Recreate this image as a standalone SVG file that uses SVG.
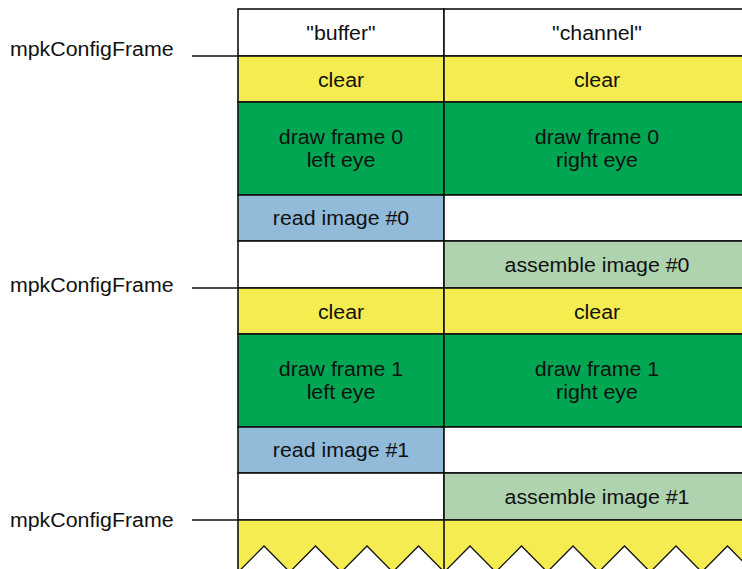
<svg xmlns="http://www.w3.org/2000/svg" width="742" height="569" viewBox="0 0 742 569">
<style>
  .cell{stroke:#111;stroke-width:1.6}
  .w{fill:#ffffff}
  .y{fill:#F5EC52}
  .g{fill:#00A651}
  .b{fill:#92BAD9}
  .lg{fill:#AED3AE}
  text{font-family:"Liberation Sans",Arial,sans-serif;font-size:19.4px;fill:#111}
  .c{text-anchor:middle}
  .tick{stroke:#111;stroke-width:1.3;fill:none}
</style>
<rect width="742" height="569" fill="#fff"/>
<g id="header-buffer"><rect class="cell w" x="238" y="9" width="206" height="47"/><text class="c" transform="translate(341,40) scale(1.1,1)">"buffer"</text></g>
<g id="header-channel"><rect class="cell w" x="444" y="9" width="306" height="47"/><text class="c" transform="translate(597,40) scale(1.1,1)">"channel"</text></g>

<g id="clear-b0"><rect class="cell y" x="238" y="56" width="206" height="46"/><text class="c" transform="translate(341,87) scale(1.1,1)">clear</text></g>
<g id="clear-c0"><rect class="cell y" x="444" y="56" width="306" height="46"/><text class="c" transform="translate(597,87) scale(1.1,1)">clear</text></g>

<g id="draw-b0"><rect class="cell g" x="238" y="102" width="206" height="93"/><text class="c" transform="translate(341,143.5) scale(1.1,1)">draw frame 0</text><text class="c" transform="translate(341,166.5) scale(1.1,1)">left eye</text></g>
<g id="draw-c0"><rect class="cell g" x="444" y="102" width="306" height="93"/><text class="c" transform="translate(597,143.5) scale(1.1,1)">draw frame 0</text><text class="c" transform="translate(597,166.5) scale(1.1,1)">right eye</text></g>

<g id="read-b0"><rect class="cell b" x="238" y="195" width="206" height="46"/><text class="c" transform="translate(341,225) scale(1.1,1)">read image #0</text></g>
<g id="empty-c0"><rect class="cell w" x="444" y="195" width="306" height="46"/></g>

<g id="empty-b0"><rect class="cell w" x="238" y="241" width="206" height="47"/></g>
<g id="assemble-c0"><rect class="cell lg" x="444" y="241" width="306" height="47"/><text class="c" transform="translate(597,272) scale(1.1,1)">assemble image #0</text></g>

<g id="clear-b1"><rect class="cell y" x="238" y="288" width="206" height="46"/><text class="c" transform="translate(341,319) scale(1.1,1)">clear</text></g>
<g id="clear-c1"><rect class="cell y" x="444" y="288" width="306" height="46"/><text class="c" transform="translate(597,319) scale(1.1,1)">clear</text></g>

<g id="draw-b1"><rect class="cell g" x="238" y="334" width="206" height="93"/><text class="c" transform="translate(341,375.5) scale(1.1,1)">draw frame 1</text><text class="c" transform="translate(341,398.5) scale(1.1,1)">left eye</text></g>
<g id="draw-c1"><rect class="cell g" x="444" y="334" width="306" height="93"/><text class="c" transform="translate(597,375.5) scale(1.1,1)">draw frame 1</text><text class="c" transform="translate(597,398.5) scale(1.1,1)">right eye</text></g>

<g id="read-b1"><rect class="cell b" x="238" y="427" width="206" height="46"/><text class="c" transform="translate(341,457) scale(1.1,1)">read image #1</text></g>
<g id="empty-c1"><rect class="cell w" x="444" y="427" width="306" height="46"/></g>

<g id="empty-b1"><rect class="cell w" x="238" y="473" width="206" height="47"/></g>
<g id="assemble-c1"><rect class="cell lg" x="444" y="473" width="306" height="47"/><text class="c" transform="translate(597,504) scale(1.1,1)">assemble image #1</text></g>

<g id="next-frame">
  <polygon class="y" points="238,520 750,520 750,570 238,570"/>
  <polygon fill="#fff" points="238.25,572 264,546 289.75,572 315.5,546 341.25,572 367,546 392.75,572 418.5,546 444.25,572 470,546 495.75,572 521.5,546 547.25,572 573,546 598.75,572 624.5,546 650.25,572 676,546 701.75,572 727.5,546 753.25,572 753.25,580 238,580"/>
  <polyline fill="none" stroke="#111" stroke-width="1.3" points="238.25,572 264,546 289.75,572 315.5,546 341.25,572 367,546 392.75,572 418.5,546 444.25,572 470,546 495.75,572 521.5,546 547.25,572 573,546 598.75,572 624.5,546 650.25,572 676,546 701.75,572 727.5,546 753.25,572"/>
  <line x1="238" y1="520" x2="750" y2="520" stroke="#111" stroke-width="1.6"/>
  <line x1="238" y1="520" x2="238" y2="569" stroke="#111" stroke-width="1.6"/>
  <line x1="444" y1="520" x2="444" y2="569" stroke="#111" stroke-width="1.6"/>
</g>

<g id="frame-label-0"><text transform="translate(10,55.5) scale(1.1,1)">mpkConfigFrame</text></g>
<g id="frame-label-1"><text transform="translate(10,291.5) scale(1.1,1)">mpkConfigFrame</text></g>
<g id="frame-label-2"><text transform="translate(10,527) scale(1.1,1)">mpkConfigFrame</text></g>

<g id="connectors">
  <line class="tick" x1="192" y1="56" x2="238" y2="56"/>
  <line class="tick" x1="192" y1="288" x2="238" y2="288"/>
  <line class="tick" x1="192" y1="520" x2="238" y2="520"/>
</g>
</svg>
